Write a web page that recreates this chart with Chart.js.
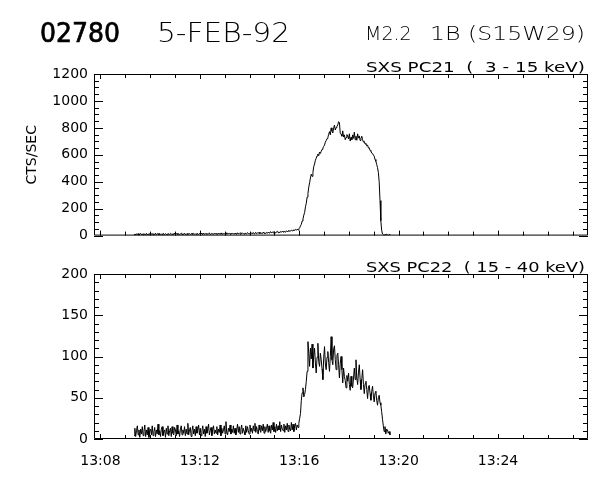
<!DOCTYPE html>
<html lang="en">
<head>
  <meta charset="UTF-8">
  <title>02780 5-FEB-92 SXS</title>
  <script src="https://cdn.jsdelivr.net/npm/chart.js@4"></script>
  <style>
    body {
      margin: 0;
      background: #fff;
      width: 600px;
      height: 480px;
      position: relative;
      overflow: hidden;
      font-family: 'DejaVu Sans', sans-serif;
    }
    canvas {
      position: absolute;
      left: 0;
    }
    #pc21-chart { top: 0; }
    #pc22-chart { top: 250px; }
    svg.labels {
      position: absolute;
      left: 0;
      top: 0;
      pointer-events: none;
    }
    svg.labels text {
      font-family: 'DejaVu Sans', sans-serif;
      fill: #000;
      white-space: pre;
    }
  </style>
</head>
<body>
  <canvas id="pc21-chart" width="600" height="250"></canvas>
  <canvas id="pc22-chart" width="600" height="230"></canvas>

  <svg class="labels" width="600" height="480">
    <text x="40" y="42" font-size="26" stroke="#000" stroke-width="0.7" textLength="80" lengthAdjust="spacingAndGlyphs">02780</text>
    <text x="157" y="42" font-size="26" font-weight="300" textLength="133" lengthAdjust="spacingAndGlyphs">5-FEB-92</text>
    <text x="365" y="40" font-size="19" font-weight="300">M2.2</text>
    <text x="430" y="40" font-size="19" font-weight="300" textLength="155" lengthAdjust="spacingAndGlyphs">1B (S15W29)</text>
    <text x="366" y="72" font-size="14" textLength="219" lengthAdjust="spacingAndGlyphs">SXS PC21  (  3 - 15 keV)</text>
    <text x="366" y="272" font-size="14" textLength="219" lengthAdjust="spacingAndGlyphs">SXS PC22  ( 15 - 40 keV)</text>
  </svg>

  <script>
    // time axis: minutes after 13:00 UT
    const startMinute = 9.35;      // first sample
    const sampleStep = 2 / 60;     // 2 s accumulation
    const xMin = 7.74;
    const xMax = 27.62;
    const xTickValues = [8, 12, 16, 20, 24];
    const xTickLabels = ['13:08', '13:12', '13:16', '13:20', '13:24'];

    // SXS PC21 (3 - 15 keV), counts/s
    const pc21 = [
      5, 12, 4, 14, 7, 15, 3, 11, 16, 6, 13, 4, 15, 8, 5, 17, 6, 12, 9, 14,
      4, 13, 16, 5, 14, 7, 18, 6, 12, 15, 4, 16, 8, 11, 5, 17, 13, 6, 15, 9,
      7, 16, 10, 5, 17, 12, 6, 15, 9, 19, 5, 13, 16, 7, 14, 8, 12, 18, 6, 15,
      9, 17, 7, 14, 6, 18, 10, 15, 8, 13, 19, 6, 16, 10, 14, 7, 18, 12, 9, 16,
      8, 18, 12, 7, 19, 9, 15, 11, 17, 8, 14, 20, 7, 13, 17, 11, 9, 19, 12, 16,
      11, 8, 19, 12, 16, 10, 20, 9, 15, 12, 18, 10, 21, 11, 15, 17, 10, 19, 12, 16,
      14, 10, 19, 13, 9, 21, 12, 17, 10, 22, 13, 18, 15, 11, 20, 14, 12, 22, 16, 13,
      17, 12, 21, 14, 23, 13, 18, 24, 14, 20, 16, 25, 14, 21, 17, 15, 26, 16, 22, 15,
      23, 17, 26, 19, 24, 29, 19, 27, 21, 30, 23, 19, 28, 32, 22, 28, 21, 31, 25, 33,
      26, 34, 28, 25, 36, 29, 33, 39, 30, 35, 41, 34, 38, 44, 38, 46, 40, 48,
      42, 50, 58, 72, 84, 108, 124, 152, 172, 214, 240, 286, 312, 360, 392, 428,
      456, 440, 470, 512, 532, 560, 575, 592, 606, 594, 620, 610, 626, 640, 650, 662,
      672, 694, 706, 720, 728, 752, 772, 748, 800, 776, 762, 798, 820, 784, 802, 812,
      822, 846, 838, 760, 752, 738, 778, 732, 748, 712, 728, 750, 740, 718, 756, 702,
      730, 712, 748, 722, 768, 712, 738, 708, 756, 724, 740, 706, 722, 738, 712, 694,
      700, 680, 684, 666, 672, 650, 652, 632, 628, 612, 610, 598, 590, 565, 552, 528,
      505, 470, 400, 260, 110, 40, 12, 6, 3, 9, 4, 11, 6, 2, 8, 5
    ];

    // SXS PC22 (15 - 40 keV), counts/s
    const pc22 = [
      4, 13, 3, 10, 16, 5, 11, 2, 12, 6, 15, 4, 9, 17, 3, 11, 5, 14, 2, 10,
      12, 5, 16, 4, 9, 14, 3, 11, 6, 18, 5, 10, 3, 12, 15, 4, 9, 11, 2, 13,
      6, 16, 4, 10, 13, 3, 15, 7, 5, 14, 11, 4, 17, 6, 10, 3, 12, 16, 5, 11,
      7, 15, 4, 12, 6, 19, 5, 11, 14, 3, 10, 16, 6, 12, 4, 15, 7, 11, 17, 5,
      13, 4, 10, 16, 6, 12, 3, 15, 7, 11, 18, 5, 10, 14, 4, 12, 16, 6, 11, 7,
      15, 5, 12, 8, 17, 4, 13, 7, 11, 16, 6, 21, 8, 5, 13, 9, 17, 6, 12, 8,
      16, 7, 13, 5, 11, 18, 8, 15, 6, 12, 17, 7, 13, 9, 5, 16, 8, 15, 10, 6,
      17, 9, 13, 7, 16, 10, 19, 8, 15, 9, 6, 17, 11, 8, 16, 10, 18, 7, 15, 9,
      13, 18, 8, 16, 10, 7, 17, 11, 20, 9, 15, 8, 18, 10, 16, 11, 21, 9, 17, 12,
      10, 18, 8, 16, 11, 19, 9, 17, 12, 10, 20, 11, 18, 9, 16, 19, 11, 17,
      14, 19, 25, 31, 47, 56, 62, 51, 54, 60, 70, 82, 118, 104, 88, 110,
      97, 115, 86, 101, 110, 92, 80, 99, 116, 94, 88, 104, 96, 85, 72, 98,
      112, 91, 84, 99, 106, 93, 82, 100, 124, 96, 90, 109, 113, 96, 84, 101,
      104, 90, 74, 92, 100, 84, 68, 86, 76, 71, 62, 77, 70, 80, 66, 59,
      76, 64, 62, 74, 86, 72, 96, 74, 66, 81, 90, 72, 60, 73, 84, 66,
      55, 67, 70, 60, 49, 63, 65, 55, 47, 58, 64, 52, 45, 56, 58, 47,
      41, 50, 53, 44, 41, 33, 24, 16, 9, 15, 6, 12, 11, 7, 9, 5
    ];

    const pc21YTicks = [0, 200, 400, 600, 800, 1000, 1200];
    const pc22YTicks = [0, 50, 100, 150, 200];

    const times = pc21.map((_, i) => startMinute + i * sampleStep);

    // IDL style box: inward ticks on all four sides
    const idlFrame = {
      id: 'idlFrame',
      afterDatasetsDraw(chart, args, opts) {
        const { ctx, chartArea: a, scales: { x, y } } = chart;
        ctx.save();
        ctx.strokeStyle = '#000';
        ctx.lineWidth = 1;
        ctx.beginPath();
        ctx.rect(a.left + 0.5, a.top + 0.5, a.right - a.left - 1, a.bottom - a.top - 1);
        for (let m = Math.ceil(x.min); m <= x.max; m++) {
          const px = Math.round(x.getPixelForValue(m)) + 0.5;
          const len = xTickValues.includes(m) ? 5 : 4;
          ctx.moveTo(px, a.bottom);
          ctx.lineTo(px, a.bottom - len);
          ctx.moveTo(px, a.top);
          ctx.lineTo(px, a.top + len);
        }
        for (let v = y.min; v <= y.max + 1e-6; v += opts.minorStep) {
          const py = Math.round(y.getPixelForValue(v)) + 0.5;
          const len = opts.majors.includes(v) ? 9 : 5;
          ctx.moveTo(a.left, py);
          ctx.lineTo(a.left + len, py);
          ctx.moveTo(a.right, py);
          ctx.lineTo(a.right - len, py);
        }
        ctx.stroke();
        ctx.restore();
      }
    };

    function makeChart(id, values, yTicks, minorStep, showX, yTitle, padding) {
      const ctx = document.getElementById(id).getContext('2d');
      return new Chart(ctx, {
        type: 'line',
        data: {
          datasets: [{
            data: values.map((v, i) => ({ x: times[i], y: v })),
            borderColor: '#000',
            borderWidth: 1,
            pointRadius: 0,
            tension: 0,
            fill: false
          }]
        },
        options: {
          responsive: false,
          animation: false,
          events: [],
          layout: { padding: padding },
          plugins: {
            legend: { display: false },
            tooltip: { enabled: false },
            idlFrame: { minorStep: minorStep, majors: yTicks }
          },
          scales: {
            x: {
              type: 'linear',
              display: showX,
              min: xMin,
              max: xMax,
              grid: { display: false, drawTicks: false },
              border: { display: false },
              afterBuildTicks: (s) => { s.ticks = xTickValues.map(v => ({ value: v })); },
              afterFit: (s) => { s.height = showX ? 30 : 0; },
              ticks: {
                autoSkip: false,
                maxRotation: 0,
                padding: 14,
                color: '#000',
                font: { family: 'DejaVu Sans', size: 14 },
                callback: (v) => xTickLabels[xTickValues.indexOf(v)]
              }
            },
            y: {
              type: 'linear',
              min: yTicks[0],
              max: yTicks[yTicks.length - 1],
              grid: { display: false, drawTicks: false },
              border: { display: false },
              afterBuildTicks: (s) => { s.ticks = yTicks.map(v => ({ value: v })); },
              afterFit: (s) => { s.width = 94; },
              title: {
                display: !!yTitle,
                text: yTitle,
                color: '#000',
                padding: { top: 24, bottom: 0 },
                font: { family: 'DejaVu Sans', size: 14 }
              },
              ticks: {
                padding: 6,
                color: '#000',
                font: { family: 'DejaVu Sans', size: 14 },
                callback: (v) => String(v)
              }
            }
          }
        },
        plugins: [idlFrame]
      });
    }

    makeChart('pc21-chart', pc21, pc21YTicks, 50, false, 'CTS/SEC',
      { top: 74, right: 12, bottom: 11, left: 0 });
    makeChart('pc22-chart', pc22, pc22YTicks, 10, true, '',
      { top: 24, right: 12, bottom: 11, left: 0 });
  </script>
</body>
</html>
